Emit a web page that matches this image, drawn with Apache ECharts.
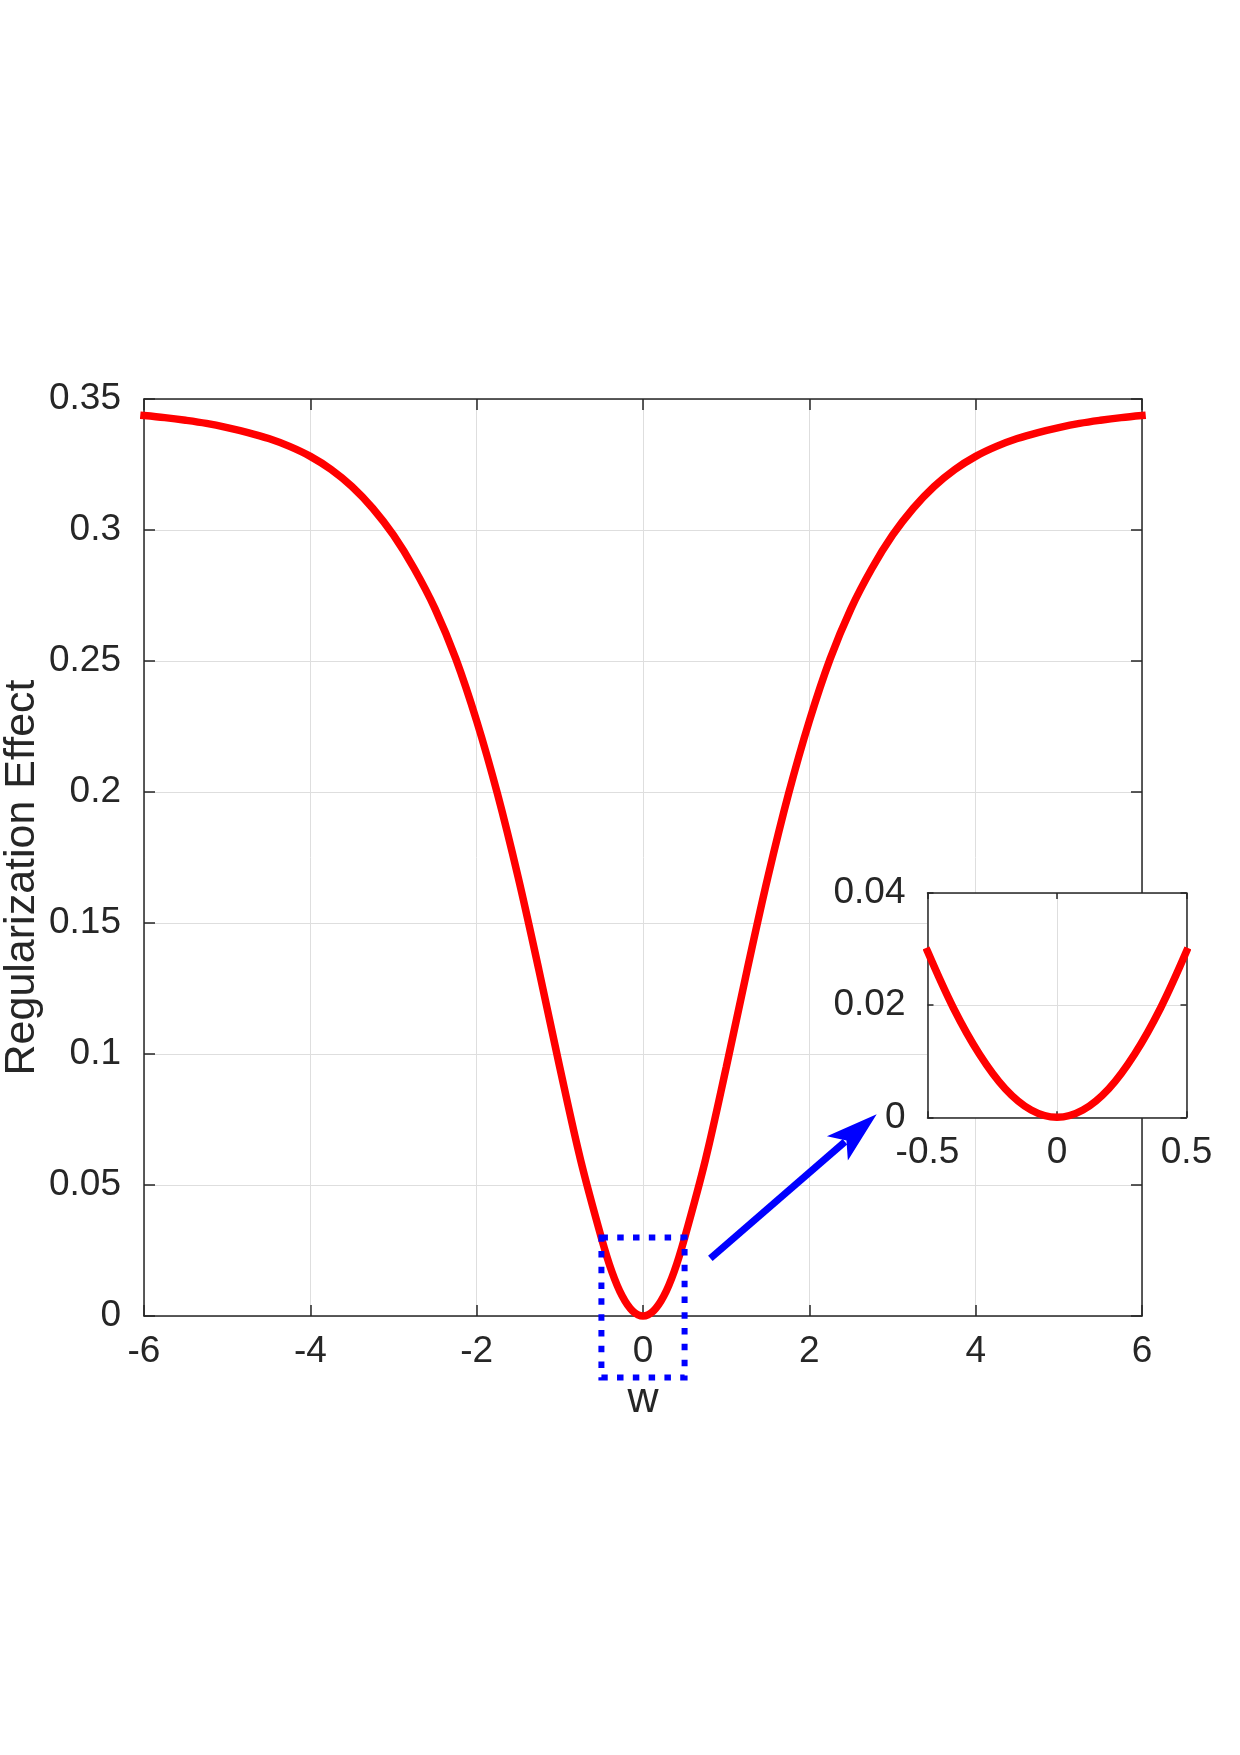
<!DOCTYPE html>
<html>
<head>
<meta charset="utf-8">
<title>Regularization Effect</title>
<script src="https://cdn.jsdelivr.net/npm/echarts@6/dist/echarts.min.js"></script>
<style>
  html, body { margin: 0; padding: 0; background: #fff; }
  #chart { width: 1240px; height: 1755px; }
</style>
</head>
<body>
<div id="chart"></div>
<script>
// main curve
const mainW = [-6, -5.75, -5.5, -5.25, -5, -4.75, -4.5, -4.25, -4, -3.75, -3.5, -3.25, -3, -2.75, -2.5, -2.25,
  -2, -1.75, -1.5, -1.25, -1, -0.75, -0.5, -0.375, -0.25, -0.125, 0,
  0.125, 0.25, 0.375, 0.5, 0.75, 1, 1.25, 1.5, 1.75, 2,
  2.25, 2.5, 2.75, 3, 3.25, 3.5, 3.75, 4, 4.25, 4.5, 4.75, 5, 5.25, 5.5, 5.75, 6]
const mainValues = [0.3437, 0.3429, 0.3419, 0.3407, 0.3391, 0.3372, 0.3349, 0.3319, 0.3281, 0.3231, 0.3166, 0.3083, 0.2980, 0.2852, 0.2699, 0.2508,
  0.2271, 0.1993, 0.1673, 0.1318, 0.0948, 0.0595, 0.0298, 0.0170, 0.0076, 0.0019, 0,
  0.0019, 0.0076, 0.0170, 0.0298, 0.0595, 0.0948, 0.1318, 0.1673, 0.1993, 0.2271,
  0.2508, 0.2699, 0.2852, 0.2980, 0.3083, 0.3166, 0.3231, 0.3281, 0.3319, 0.3349, 0.3372, 0.3391, 0.3407, 0.3419, 0.3429, 0.3437]

// zoomed inset
const insetW = [-0.5, -0.4, -0.3, -0.2, -0.1, 0, 0.1, 0.2, 0.3, 0.4, 0.5]
const insetValues = [0.0296, 0.0195, 0.0113, 0.0051, 0.0013, 0, 0.0013, 0.0051, 0.0113, 0.0195, 0.0296]

// annotations in main-axis data units
const zoomBox = { x0: -0.5, x1: 0.5, y0: -0.0235, y1: 0.03 }
const arrowFrom = [0.81, 0.022]
const arrowTo = [2.81, 0.077]

const textColor = '#262626'
const gridColor = '#dedede'
const font = "'Liberation Sans', Arial, Helvetica, sans-serif"

function frameAxis(gridIndex, position, extra) {
  return Object.assign({
    gridIndex,
    position,
    type: 'value',
    axisLine: { show: true, onZero: false, lineStyle: { color: textColor, width: 1.5 } },
    axisTick: { show: true, inside: true, length: gridIndex === 0 ? 11 : 6, lineStyle: { color: textColor, width: 1.5 } },
    axisLabel: { show: false },
    splitLine: { show: false }
  }, extra)
}

function mainAxis(gridIndex, position, extra) {
  const ax = frameAxis(gridIndex, position, extra)
  ax.axisLabel = { show: true, color: textColor, fontSize: 37, fontFamily: font, margin: extra.labelMargin }
  ax.splitLine = { show: true, lineStyle: { color: gridColor, width: 1 } }
  delete ax.labelMargin
  return ax
}

const option = {
  backgroundColor: '#fff',
  animation: false,
  textStyle: { fontFamily: font },
  grid: [
    { left: 144, right: 98, top: 399, bottom: 439, outerBoundsMode: 'none' },
    { left: 927.5, right: 53.5, top: 893, bottom: 637.7, outerBoundsMode: 'none', show: true, backgroundColor: '#fff', borderWidth: 0, z: 5 }
  ],
  xAxis: [
    mainAxis(0, 'bottom', {
      min: -6, max: 6, interval: 2, labelMargin: 17,
      name: 'w', nameLocation: 'middle', nameGap: 63, nameMoveOverlap: false,
      nameTextStyle: { color: textColor, fontSize: 43, fontFamily: font }
    }),
    frameAxis(0, 'top', { min: -6, max: 6, interval: 2 }),
    mainAxis(1, 'bottom', { min: -0.5, max: 0.5, interval: 0.5, labelMargin: 17, z: 6 }),
    frameAxis(1, 'top', { min: -0.5, max: 0.5, interval: 0.5, z: 6 })
  ],
  yAxis: [
    mainAxis(0, 'left', {
      min: 0, max: 0.35, interval: 0.05, labelMargin: 23,
      name: 'Regularization Effect', nameLocation: 'middle', nameGap: 100, nameMoveOverlap: false,
      nameTextStyle: { color: textColor, fontSize: 43, fontFamily: font, padding: [0, 40, 0, 0] }
    }),
    frameAxis(0, 'right', { min: 0, max: 0.35, interval: 0.05 }),
    mainAxis(1, 'left', { min: 0, max: 0.04, interval: 0.02, labelMargin: 22, z: 6 }),
    frameAxis(1, 'right', { min: 0, max: 0.04, interval: 0.02, z: 6 })
  ],
  series: [
    {
      type: 'line',
      xAxisIndex: 0,
      yAxisIndex: 0,
      data: mainW.map((w, i) => [w, mainValues[i]]),
      smooth: 0.35,
      showSymbol: false,
      clip: false,
      z: 3,
      lineStyle: { color: '#ff0000', width: 7.5, cap: 'square' }
    },
    {
      type: 'line',
      xAxisIndex: 2,
      yAxisIndex: 2,
      data: insetW.map((w, i) => [w, insetValues[i]]),
      smooth: 0.35,
      showSymbol: false,
      clip: false,
      z: 7,
      lineStyle: { color: '#ff0000', width: 7.5, cap: 'square' }
    }
  ]
}

const chart = echarts.init(document.getElementById('chart'))
chart.setOption(option)

// dotted zoom box and arrow, placed through the main axes
const toPx = (pt) => chart.convertToPixel({ xAxisIndex: 0, yAxisIndex: 0 }, pt)
const boxA = toPx([zoomBox.x0, zoomBox.y1])
const boxB = toPx([zoomBox.x1, zoomBox.y0])
const start = toPx(arrowFrom)
const tip = toPx(arrowTo)
const dx = tip[0] - start[0]
const dy = tip[1] - start[1]
const len = Math.sqrt(dx * dx + dy * dy)
const ux = dx / len
const uy = dy / len
const nx = -uy
const ny = ux
const headLen = 52
const headHalf = 16
const notch = 40

chart.setOption({
  graphic: [
    {
      type: 'rect',
      z: 20,
      shape: { x: boxA[0], y: boxA[1], width: boxB[0] - boxA[0], height: boxB[1] - boxA[1] },
      style: { fill: 'none', stroke: '#0000ff', lineWidth: 6, lineDash: [6.5, 9.3] }
    },
    {
      type: 'line',
      z: 20,
      shape: { x1: start[0], y1: start[1], x2: tip[0] - ux * (notch + 2), y2: tip[1] - uy * (notch + 2) },
      style: { stroke: '#0000ff', lineWidth: 7 }
    },
    {
      type: 'polygon',
      z: 20,
      shape: {
        points: [
          tip,
          [tip[0] - ux * headLen + nx * headHalf, tip[1] - uy * headLen + ny * headHalf],
          [tip[0] - ux * notch, tip[1] - uy * notch],
          [tip[0] - ux * headLen - nx * headHalf, tip[1] - uy * headLen - ny * headHalf]
        ]
      },
      style: { fill: '#0000ff' }
    }
  ]
})
</script>
</body>
</html>
